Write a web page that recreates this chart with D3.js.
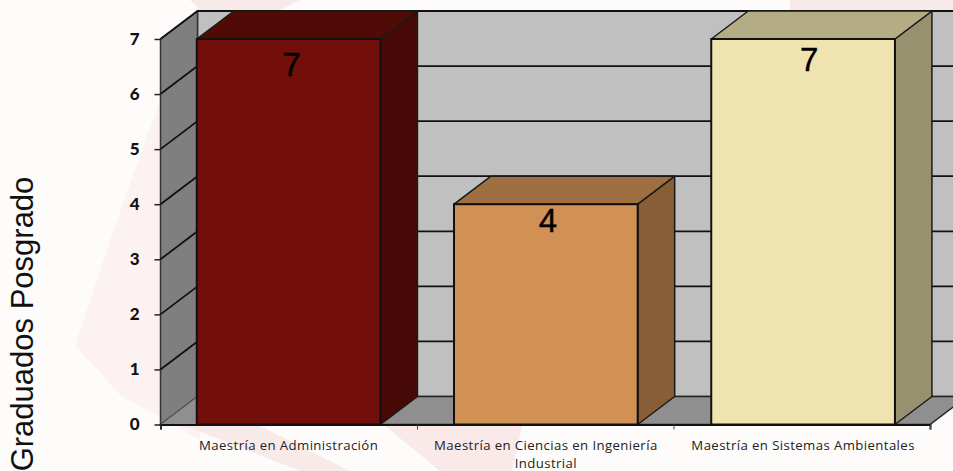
<!DOCTYPE html>
<html>
<head>
<meta charset="utf-8">
<script src="https://cdn.jsdelivr.net/npm/d3@7"></script>
<style>
  html, body { margin: 0; padding: 0; background: #fefcfb; overflow: hidden; }
  svg { display: block; }
</style>
</head>
<body>
<svg id="chart" width="953" height="471"></svg>
<script>
  // values
  var categories = ['Maestría en Administración', 'Maestría en Ciencias en Ingeniería Industrial', 'Maestría en Sistemas Ambientales']
  var values = [7, 4, 7]
  var yTicks = [0, 1, 2, 3, 4, 5, 6, 7]
  var yTitle = 'Graduados Posgrado'

  var frontColors = ['#720f0a', '#d19155', '#efe4b0']
  var topColors = ['#500b07', '#a06f41', '#b4ac84']
  var sideColors = ['#470906', '#875e35', '#979170']
  var labelDy = [37, 28, 32]
  var labelDx = [3, 2, 6]

  // faint watermark behind the chart
  var watermark = [
    {fill: '#fbf2f1', pts: [[75, 345], [110, 240], [160, 100], [200, 10], [200, 440], [120, 395]]},
    {fill: '#f9eaea', pts: [[190, 0], [300, 0], [280, 10], [200, 10]]},
    {fill: '#f9eaea', pts: [[185, 426], [260, 426], [350, 471], [300, 471]]},
    {fill: '#f9e9e9', pts: [[385, 426], [522, 426], [512, 471], [440, 471]]},
    {fill: '#f9eaea', pts: [[790, 0], [953, 0], [953, 10], [790, 10]]}
  ]

  var svg = d3.select('#chart')
  var depthX = 37, depthY = 28
  var left = 160.5, right = 930
  var bottom = 424.5, top7 = 39

  var x = d3.scaleBand()
    .domain(categories)
    .range([left, right + 1.2])
    .paddingInner(0.286)
    .paddingOuter(0.141)

  var xEdges = d3.scalePoint()
    .domain(d3.range(categories.length + 1))
    .range([left, right])

  var y = d3.scaleLinear()
    .domain([0, 7])
    .range([bottom, top7])

  var line = d3.line()

  svg.selectAll('.mark')
    .data(watermark)
    .enter().append('path')
    .attr('class', 'mark')
    .attr('d', function(d){ return line(d.pts) + 'Z' })
    .style('fill', function(d){ return d.fill })

  // back wall
  svg.append('rect')
    .attr('x', left + depthX).attr('y', y(7) - depthY)
    .attr('width', 953 - left - depthX + 5).attr('height', y(0) - y(7))
    .style('fill', '#c0c0c0')
    .style('stroke', '#333')
    .style('stroke-width', 1.5)

  // floor
  svg.append('path')
    .attr('d', line([[left, bottom], [left + depthX, bottom - depthY], [right + depthX, bottom - depthY], [right, bottom]]) + 'Z')
    .style('fill', '#8f8f8f')
    .style('stroke', '#222')
    .style('stroke-width', 1.5)

  // left wall
  svg.append('path')
    .attr('d', line([[left, y(7)], [left + depthX, y(7) - depthY], [left + depthX, y(0) - depthY], [left, y(0)]]) + 'Z')
    .style('fill', '#7f7f7f')
    .style('stroke', '#333')
    .style('stroke-width', 1.5)

  svg.append('path')
    .attr('d', line([[left, bottom], [left + depthX, bottom - depthY], [left + depthX, bottom], [left, bottom]]) + 'Z')
    .style('fill', '#8f8f8f')
    .style('stroke', 'none')

  svg.append('line')
    .attr('x1', left).attr('y1', bottom)
    .attr('x2', left + depthX).attr('y2', bottom - depthY)
    .style('stroke', '#555')
    .style('stroke-width', 1)

  svg.append('line')
    .attr('x1', left + depthX).attr('y1', bottom - depthY)
    .attr('x2', left + depthX).attr('y2', bottom)
    .style('stroke', '#444')
    .style('stroke-width', 1.5)

  // gridlines, back wall then left wall
  var grid = yTicks.filter(function(d){ return d > 0 })

  svg.selectAll('.gridBack')
    .data(grid)
    .enter().append('line')
    .attr('class', 'gridBack')
    .attr('x1', left + depthX).attr('x2', 953)
    .attr('y1', function(d){ return y(d) - depthY })
    .attr('y2', function(d){ return y(d) - depthY })
    .style('stroke', '#111')
    .style('stroke-width', 1.8)

  svg.selectAll('.gridLeft')
    .data(grid)
    .enter().append('line')
    .attr('class', 'gridLeft')
    .attr('x1', left).attr('x2', left + depthX)
    .attr('y1', function(d){ return y(d) })
    .attr('y2', function(d){ return y(d) - depthY })
    .style('stroke', '#111')
    .style('stroke-width', 1.8)

  // bars
  var bars = svg.selectAll('.bar')
    .data(values)
    .enter().append('g')
    .attr('class', 'bar')

  function corners(d, i){
    var x0 = x(categories[i]), x1 = x0 + x.bandwidth()
    return {x0: x0, x1: x1, yt: y(d), yb: y(0)}
  }

  bars.append('path')
    .attr('d', function(d, i){
      var c = corners(d, i)
      return line([[c.x1, c.yt], [c.x1 + depthX, c.yt - depthY], [c.x1 + depthX, c.yb - depthY], [c.x1, c.yb]]) + 'Z'
    })
    .style('fill', function(d, i){ return sideColors[i] })
    .style('stroke', '#1a1a1a')
    .style('stroke-width', 1.5)
    .style('stroke-linejoin', 'round')

  bars.append('path')
    .attr('d', function(d, i){
      var c = corners(d, i)
      return line([[c.x0, c.yt], [c.x0 + depthX, c.yt - depthY], [c.x1 + depthX, c.yt - depthY], [c.x1, c.yt]]) + 'Z'
    })
    .style('fill', function(d, i){ return topColors[i] })
    .style('stroke', '#1a1a1a')
    .style('stroke-width', 1.5)
    .style('stroke-linejoin', 'round')

  bars.append('rect')
    .attr('x', function(d, i){ return x(categories[i]) })
    .attr('y', function(d){ return y(d) })
    .attr('width', x.bandwidth())
    .attr('height', function(d){ return y(0) - y(d) })
    .style('fill', function(d, i){ return frontColors[i] })
    .style('stroke', '#111')
    .style('stroke-width', 2)

  bars.append('text')
    .attr('x', function(d, i){ return x(categories[i]) + x.bandwidth() / 2 + labelDx[i] })
    .attr('y', function(d, i){ return y(d) + labelDy[i] })
    .attr('text-anchor', 'middle')
    .style('font-family', '"Liberation Sans", Arial, sans-serif')
    .style('font-size', '33px')
    .style('fill', '#000')
    .style('stroke', '#000')
    .style('stroke-width', 0.4)
    .text(function(d){ return d })

  // axes
  var yAxis = svg.append('g')
    .attr('transform', 'translate(' + left + ',0)')
    .call(d3.axisLeft(y).tickValues(yTicks).tickFormat(d3.format('d')).tickSize(6).tickPadding(15))

  yAxis.select('.domain').remove()
  yAxis.selectAll('line').style('stroke', '#222').style('stroke-width', 1.5)
  yAxis.selectAll('text')
    .attr('dy', '0.55em')
    .attr('y', -4)
    .style('font-family', 'Lato, sans-serif')
    .style('font-weight', '900')
    .style('font-size', '17px')
    .style('fill', '#111')

  var xTicks = svg.append('g')
    .attr('transform', 'translate(0,' + bottom + ')')
    .call(d3.axisBottom(xEdges).tickSize(5).tickFormat(''))

  xTicks.select('.domain').style('stroke', '#111').style('stroke-width', 2)
  xTicks.selectAll('line').style('stroke', '#444').style('stroke-width', 1)

  var xLabels = svg.append('g')
    .attr('transform', 'translate(0,' + bottom + ')')
    .call(d3.axisBottom(x).tickSize(0).tickPadding(16))

  xLabels.select('.domain').remove()
  xLabels.selectAll('text')
    .style('font-family', '"Open Sans", sans-serif')
    .style('font-size', '13.2px')
    .style('letter-spacing', '0.4px')
    .style('fill', '#222')
    .call(wrap, 240)

  function wrap(sel, width){
    sel.each(function(){
      var text = d3.select(this)
      var words = text.text().split(' ')
      var py = text.attr('y')
      var tspan = text.text(null).append('tspan').attr('x', 0).attr('y', py).attr('dy', '0.71em')
      var cur = []
      words.forEach(function(w){
        cur.push(w)
        tspan.text(cur.join(' '))
        if(tspan.node().getComputedTextLength() > width){
          cur.pop()
          tspan.text(cur.join(' '))
          cur = [w]
          tspan = text.append('tspan').attr('x', 0).attr('y', py).attr('dy', '2.05em').text(w)
        }
      })
    })
  }

  svg.append('text')
    .attr('transform', 'translate(33,324) rotate(-90)')
    .attr('text-anchor', 'middle')
    .style('font-family', '"Liberation Sans", Arial, sans-serif')
    .style('font-size', '31px')
    .style('fill', '#111')
    .text(yTitle)
</script>
</body>
</html>
